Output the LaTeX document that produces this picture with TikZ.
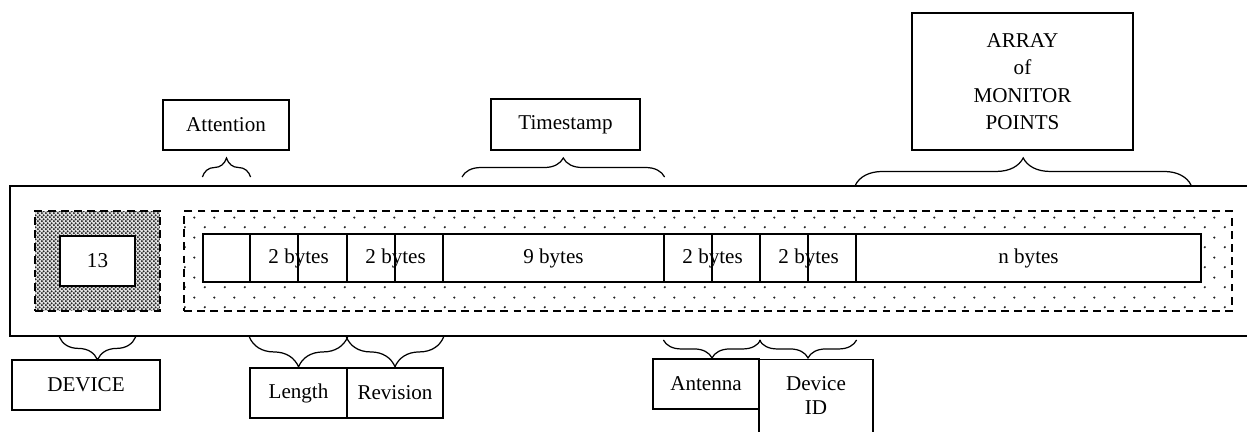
\documentclass[tikz,border=0pt]{standalone}
\usepackage{fontspec}
\setmainfont{Liberation Serif}
\usetikzlibrary{decorations.pathreplacing,patterns.meta}
\tikzdeclarepattern{name=sparsedots,type=uncolored,
  bounding box={(0,0) and (11.4pt,11.4pt)},tile size={(11.4pt,11.4pt)},
  code={\fill (2.85pt,2.85pt) circle (0.7pt); \fill (8.55pt,8.55pt) circle (0.7pt);}}
\tikzdeclarepattern{name=densedots,type=uncolored,
  bounding box={(0,0) and (2.4pt,2.4pt)},tile size={(2.4pt,2.4pt)},
  code={\fill (0.6pt,0.6pt) circle (0.72pt); \fill (1.8pt,1.8pt) circle (0.72pt);}}
\tikzset{
  box/.style={draw=black,line width=0.7pt,inner sep=0pt,align=center,font=\fontsize{12}{14}\selectfont},
  cell/.style={draw=black,line width=0.7pt,fill=white,inner sep=0pt,minimum height=0.96cm,font=\fontsize{12}{14}\selectfont},
  txt/.style={inner sep=0pt,font=\fontsize{12}{14}\selectfont},
  area/.style={draw=black,line width=0.9pt,dash pattern=on 4.5pt off 3pt,inner sep=0pt,pattern color=black!85},
  brc/.style={decorate,decoration={brace,amplitude=#1},line width=0.7pt},
}

\begin{document}
\begin{tikzpicture}[x=0.02cm,y=-0.02cm]
\useasboundingbox (0,0) rectangle (1247,432);
% outer frame, open to the right
\draw[line width=1pt] (1260,186) -- (10,186) -- (10,336) -- (1260,336);
%
\node (devarea) [area,preaction={fill=black!12},pattern=densedots,minimum width=2.5cm,minimum height=2cm] at (97.5,261) {};
\node (num) [box,fill=white,minimum width=1.5cm,minimum height=1cm] at (97.5,261) {13};
\node (msgarea) [area,pattern=sparsedots,minimum width=20.96cm,minimum height=2cm] at (708,261) {};
%
\node (c0) [cell,minimum width=0.94cm] at (226.5,258) {};
\node (c1a) [cell,minimum width=0.96cm] at (274,258) {};
\node (c1b) [cell,minimum width=0.98cm] at (322.5,258) {};
\node (c2a) [cell,minimum width=0.96cm] at (371,258) {};
\node (c2b) [cell,minimum width=0.96cm] at (419,258) {};
\node (c3) [cell,minimum width=4.42cm] at (553.5,258) {9 bytes};
\node (c4a) [cell,minimum width=0.96cm] at (688,258) {};
\node (c4b) [cell,minimum width=0.96cm] at (736,258) {};
\node (c5a) [cell,minimum width=0.96cm] at (784,258) {};
\node (c5b) [cell,minimum width=0.96cm] at (832,258) {};
\node (c6) [cell,minimum width=6.9cm] at (1028.5,258) {n bytes};
\node (l1) [txt] at (c1a.east) {2 bytes};
\node (l2) [txt] at (c2a.east) {2 bytes};
\node (l4) [txt] at (c4a.east) {2 bytes};
\node (l5) [txt] at (c5a.east) {2 bytes};
%
\node (att) [box,minimum width=2.52cm,minimum height=1cm] at (226,125) {Attention};
\node (ts) [box,minimum width=2.98cm,minimum height=1.02cm] at (565.5,124.5) {Timestamp};
\node (arr) [box,minimum width=4.42cm,minimum height=2.74cm,font=\fontsize{12}{15.6}\selectfont] at (1022.5,81.5) {ARRAY\\of\\MONITOR\\POINTS};
\node (dev) [box,minimum width=2.96cm,minimum height=1cm] at (86,385) {DEVICE};
\node (len) [box,minimum width=1.94cm,minimum height=1cm] at (298.5,393) {Length};
\node (rev) [box,minimum width=1.92cm,minimum height=1cm] at (395,393) {Revision};
\node (ant) [box,minimum width=2.12cm,minimum height=1cm] at (706,384) {Antenna};
\node (devid) [box,anchor=north,minimum width=2.28cm,minimum height=1.8cm] at (816,359) {};
\node (devidtxt) [txt,align=center,anchor=north] at ([yshift=-0.34cm]devid.north) {Device\\ID};
%
\coordinate (upA) at (0,177);
\coordinate (upB) at (0,185);
\coordinate (lowA) at (0,337);
\coordinate (lowB) at (0,340);
\draw[brc=10.8pt] (c0.west |- upA) -- (c0.east |- upA);
\draw[brc=10.8pt] (462,177) -- (c3.east |- upA);
\draw[brc=15.4pt] (c6.west |- upB) -- (1191,185);
\draw[brc=13pt] (num.east |- lowA) -- (num.west |- lowA);
\draw[brc=17pt] (c1b.east |- lowA) -- (c1a.west |- lowA);
\draw[brc=17pt] (c2b.east |- lowA) -- (c2a.west |- lowA);
\draw[brc=10.2pt] (c4b.east |- lowB) -- (c4a.west |- lowB);
\draw[brc=10.2pt] (c5b.east |- lowB) -- (c5a.west |- lowB);
\end{tikzpicture}
\end{document}
